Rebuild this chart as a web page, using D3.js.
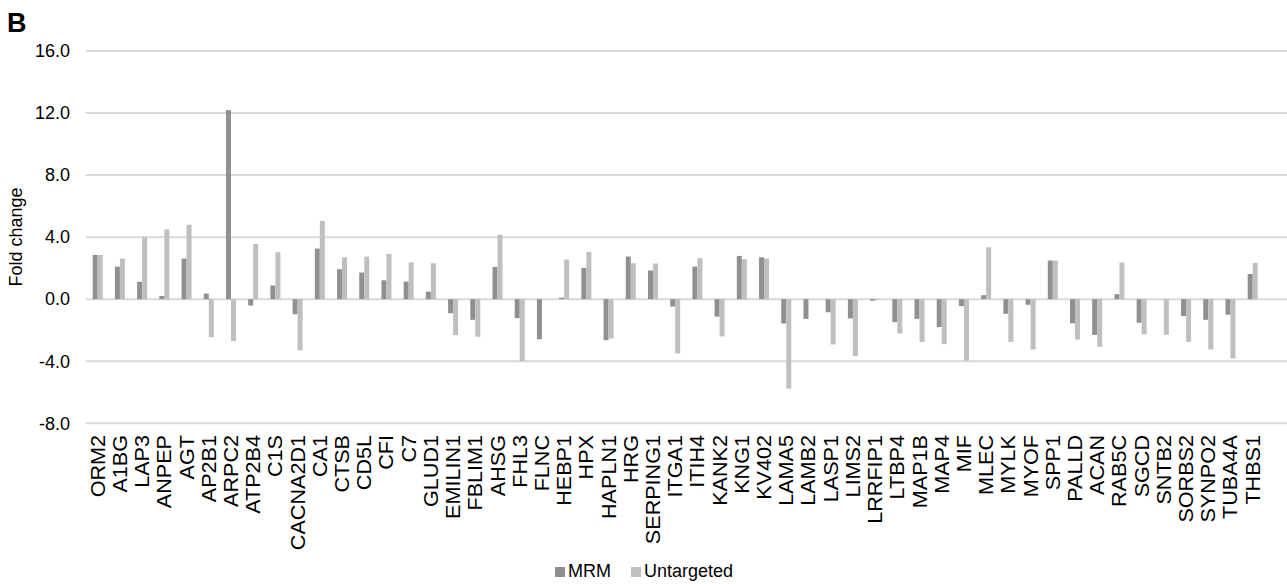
<!DOCTYPE html>
<html>
<head>
<meta charset="utf-8">
<script src="https://cdn.jsdelivr.net/npm/d3@7"></script>
<style>
  body { margin: 0; background: #fff; }
  text { font-family: "Liberation Sans", Arial, sans-serif; fill: #000; }
</style>
</head>
<body>
<div id="chart"></div>
<script>
const proteins = ["ORM2","A1BG","LAP3","ANPEP","AGT","AP2B1","ARPC2","ATP2B4","C1S","CACNA2D1",
  "CA1","CTSB","CD5L","CFI","C7","GLUD1","EMILIN1","FBLIM1","AHSG","FHL3",
  "FLNC","HEBP1","HPX","HAPLN1","HRG","SERPING1","ITGA1","ITIH4","KANK2","KNG1",
  "KV402","LAMA5","LAMB2","LASP1","LIMS2","LRRFIP1","LTBP4","MAP1B","MAP4","MIF",
  "MLEC","MYLK","MYOF","SPP1","PALLD","ACAN","RAB5C","SGCD","SNTB2","SORBS2",
  "SYNPO2","TUBA4A","THBS1"];

const mrmValues = [2.85,2.1,1.12,0.21,2.62,0.36,12.19,-0.41,0.88,-0.97,
  3.26,1.93,1.72,1.22,1.13,0.49,-0.9,-1.33,2.08,-1.22,
  -2.58,0.1,2.02,-2.64,2.75,1.85,-0.47,2.1,-1.12,2.79,
  2.7,-1.57,-1.27,-0.84,-1.24,-0.1,-1.48,-1.27,-1.8,-0.45,
  0.26,-0.94,-0.36,2.49,-1.55,-2.3,0.32,-1.52,0,-1.09,
  -1.33,-1.0,1.63];

const untargetedValues = [2.85,2.62,4.01,4.5,4.8,-2.45,-2.7,3.56,3.03,-3.3,
  5.04,2.7,2.75,2.92,2.38,2.32,-2.32,-2.42,4.16,-3.99,
  0,2.55,3.05,-2.53,2.32,2.3,-3.5,2.64,-2.4,2.58,
  2.62,-5.77,0,-2.92,-3.67,-0.05,-2.21,-2.75,-2.9,-3.97,
  3.35,-2.75,-3.24,2.49,-2.6,-3.07,2.36,-2.27,-2.3,-2.75,
  -3.24,-3.82,2.34];

const seriesNames = ["MRM", "Untargeted"];
const yTicks = [-8, -4, 0, 4, 8, 12, 16];

const width = 1287, height = 584;
const colors = { MRM: "#909090", Untargeted: "#bfbfbf" };

const svg = d3.select("#chart").append("svg")
  .attr("width", width)
  .attr("height", height);

const x = d3.scaleBand()
  .domain(proteins)
  .range([86.6, 1263.8])
  .paddingInner(0)
  .paddingOuter(0);

const xSeries = d3.scaleBand()
  .domain(seriesNames)
  .range([x.bandwidth() / 2 - 5, x.bandwidth() / 2 + 5]);

const y = d3.scaleLinear()
  .domain([-8, 16])
  .range([423.3, 51]);

// gridlines
svg.append("g")
  .selectAll("line")
  .data(yTicks)
  .join("line")
  .attr("x1", 86)
  .attr("x2", width)
  .attr("y1", d => y(d))
  .attr("y2", d => y(d))
  .attr("stroke", "#d9d9d9")
  .attr("stroke-width", 2);

// y axis labels (plain hyphen for negatives, like the original)
const yAxis = svg.append("g")
  .attr("transform", "translate(70,0)")
  .call(d3.axisLeft(y).tickValues(yTicks).tickFormat(d => d.toFixed(1)).tickSize(0).tickPadding(0));
yAxis.select(".domain").remove();
yAxis.selectAll("text")
  .style("font-size", "18px")
  .style("font-family", "'Liberation Sans', Arial, sans-serif")
  .attr("fill", "#000");

// bars
const rows = proteins.map((p, i) => ({ p, MRM: mrmValues[i], Untargeted: untargetedValues[i] }));

svg.append("g")
  .selectAll("g")
  .data(rows)
  .join("g")
  .attr("transform", d => `translate(${x(d.p)},0)`)
  .selectAll("rect")
  .data(d => seriesNames.map(s => ({ s, v: d[s] })))
  .join("rect")
  .attr("x", d => xSeries(d.s))
  .attr("width", xSeries.bandwidth())
  .attr("y", d => y(Math.max(0, d.v)))
  .attr("height", d => Math.abs(y(d.v) - y(0)))
  .attr("fill", d => colors[d.s]);

// x labels
svg.append("g")
  .selectAll("text")
  .data(proteins)
  .join("text")
  .attr("transform", d => `translate(${x(d) + x.bandwidth() / 2},435) rotate(-90) scale(1.08,1)`)
  .attr("text-anchor", "end")
  .attr("dy", "0.35em")
  .style("font-size", "20px")
  .text(d => d);

// y title
svg.append("text")
  .attr("transform", "translate(22,237) rotate(-90)")
  .attr("text-anchor", "middle")
  .style("font-size", "18px")
  .text("Fold change");

// panel letter
svg.append("text")
  .attr("x", 7)
  .attr("y", 32)
  .style("font-size", "27px")
  .style("font-weight", "bold")
  .text("B");

// legend
const legend = svg.append("g").attr("transform", "translate(555,567)");
const legendX = [0, 76];
seriesNames.forEach((s, i) => {
  const g = legend.append("g").attr("transform", `translate(${legendX[i]},0)`);
  g.append("rect").attr("width", 10).attr("height", 10).attr("fill", colors[s]);
  g.append("text").attr("x", 13).attr("y", 10).style("font-size", "18px").text(s);
});
</script>
</body>
</html>
